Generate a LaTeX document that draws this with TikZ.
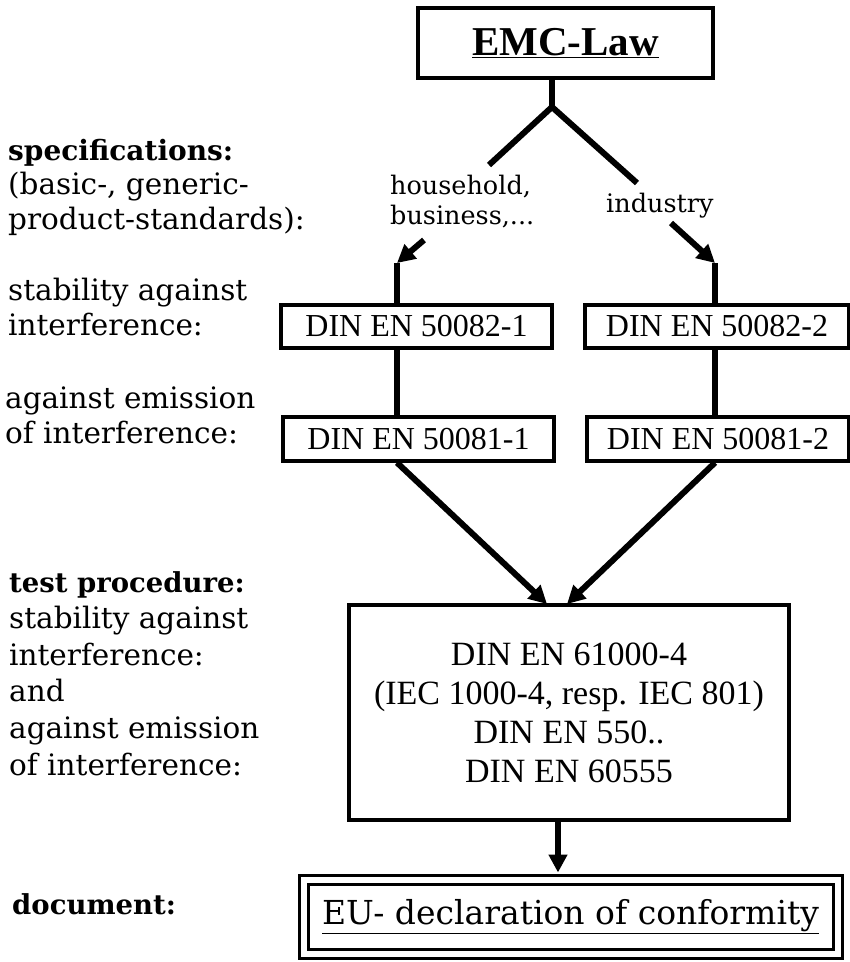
\documentclass[tikz,border=0pt]{standalone}
\usepackage{fontspec}
\setmainfont{Liberation Serif}
\newfontfamily\schfont{DejaVu Serif}
\usetikzlibrary{arrows.meta}

\begin{document}
\begin{tikzpicture}[x=1pt, y=-1pt,
  every node/.style = {inner sep=0pt},
  normbox/.style = {draw, line width=3.3pt, minimum height=43pt,
    font=\fontsize{32}{38}\selectfont},
  sidetext/.style = {anchor=north west, align=left,
    font=\schfont\fontsize{29.5}{34.5}\selectfont},
  branch/.style = {align=left, font=\schfont\fontsize{25.5}{30}\selectfont},
  link/.style = {line width=6pt},
  linkarrow/.style = {line width=6pt, -{Triangle[length=18pt,width=18pt]}}]
  \useasboundingbox (0,0) rectangle (850,962);

  % law and the two branches
  \node[normbox, minimum width=295pt, minimum height=70pt,
    font=\bfseries\fontsize{41}{48}\selectfont] (law) at (565.5,43) {\underline{EMC-Law}};
  \node[branch, anchor=north west] (hh) at (390,175) {household,\\business,...};
  \node[branch, anchor=base west] (ind) at (606,212) {industry};

  % standards
  \node[normbox, minimum width=271pt] (imm1) at (416.5,326.5) {DIN EN 50082-1};
  \node[normbox, minimum width=264pt] (imm2) at (717,326.5) {DIN EN 50082-2};
  \node[normbox, minimum width=271pt, minimum height=44pt] (emi1) at (418.5,439) {DIN EN 50081-1};
  \node[normbox, minimum width=262pt, minimum height=44pt] (emi2) at (718,439) {DIN EN 50081-2};

  \node[normbox, minimum width=440pt, minimum height=215pt, align=center,
    font=\fontsize{34}{39}\selectfont] (test) at (569,712.5)
    {DIN EN 61000-4\\(IEC 1000-4, resp. IEC 801)\\DIN EN 550..\\DIN EN 60555};
  \node[draw, double, line width=3pt, double distance=6pt, minimum width=534pt,
    minimum height=74pt, font=\schfont\fontsize{33}{40}\selectfont] (decl) at (570.5,917)
    {\underline{EU- declaration of conformity}};

  % left column
  \node[sidetext] (spec) at (8,139)
    {{\bfseries\fontsize{28}{34.5}\selectfont specifications:}\\(basic-, generic-\\product-standards):};
  \node[sidetext] (immtext) at (8,278) {stability against\\interference:};
  \node[sidetext] (emitext) at (5,387) {against emission\\of interference:};
  \node[sidetext, font=\schfont\fontsize{29.5}{36.6}\selectfont] (proctext) at (9,571)
    {{\bfseries\fontsize{27.5}{36.6}\selectfont test procedure:}\\stability against\\interference:\\and\\against emission\\of interference:};
  \node[anchor=base west, font=\schfont\bfseries\fontsize{27.5}{33}\selectfont] (doctext) at (12,914) {document:};

  \coordinate (fork) at (552,107);
  \coordinate (hhend) at (489,165);
  \coordinate (indend) at (637,183);
  \coordinate (hhstart) at (424,240);
  \coordinate (hhtip) at (397,263);
  \coordinate (indstart) at (671,223);
  \coordinate (indtip) at (715,263);
  \coordinate (tinl) at (547,604);
  \coordinate (tinr) at (567,604);
  \coordinate (down) at (558,0);

  \draw[link] (law.south -| fork) -- (fork);
  \draw[link] (fork) -- (hhend);
  \draw[link] (fork) -- (indend);
  \draw[linkarrow] (hhstart) -- (hhtip);
  \draw[linkarrow] (indstart) -- (indtip);
  \draw[link] (hhtip) -- (imm1.north -| hhtip);
  \draw[link] (indtip) -- (imm2.north -| indtip);
  \draw[link] (imm1.south -| hhtip) -- (emi1.north -| hhtip);
  \draw[link] (imm2.south -| indtip) -- (emi2.north -| indtip);
  \draw[linkarrow] (emi1.south -| hhtip) -- (tinl);
  \draw[linkarrow] (emi2.south -| indtip) -- (tinr);
  \draw[linkarrow, shorten >=6pt] (test.south -| down) -- (decl.north -| down);
\end{tikzpicture}
\end{document}
